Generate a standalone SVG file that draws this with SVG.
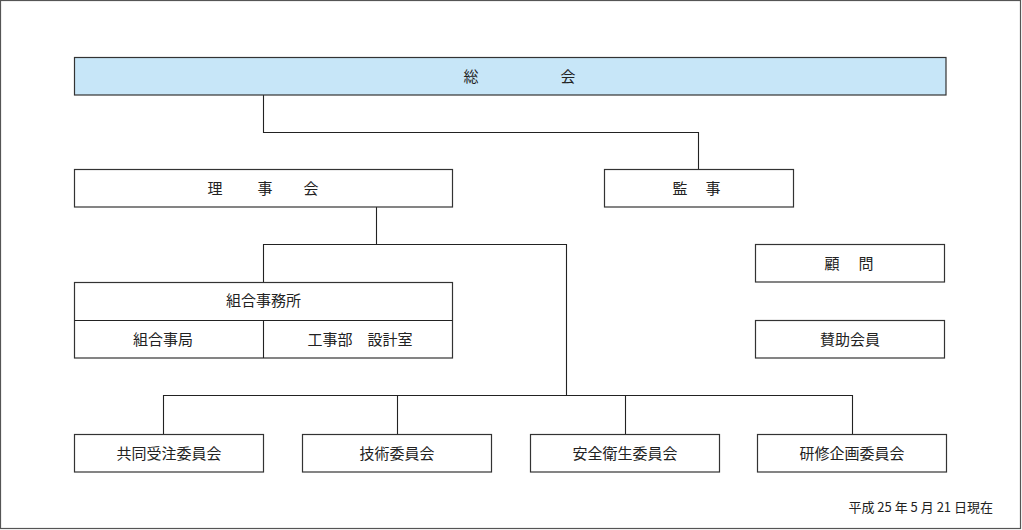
<svg xmlns="http://www.w3.org/2000/svg" width="1022" height="530" viewBox="0 0 1022 530">
<style>
.frame{fill:#fff;stroke:#555;stroke-width:1.2}
.box{fill:#fff;stroke:#333;stroke-width:1.2}
.top{fill:#c7e6f8;stroke:#333;stroke-width:1.2}
.ln{fill:none;stroke:#222;stroke-width:1.1}
text{font-family:"Noto Sans CJK JP","Noto Sans CJK SC",sans-serif;font-size:15px;fill:#222;text-anchor:middle}
.date{font-size:13px;text-anchor:end}
</style>
<rect class="frame" x="0.5" y="0.5" width="1020" height="528"/>
<g id="connectors">
<path class="ln" d="M263.5 95V132.5H698.5V169"/>
<path class="ln" d="M376.5 207V244.5"/>
<path class="ln" d="M263.5 282V244.5H566.5V395.5"/>
<path class="ln" d="M163.5 434V395.5H852.5V434"/>
<path class="ln" d="M397.5 395.5V434"/>
<path class="ln" d="M625.5 395.5V434"/>
</g>
<g id="soukai"><rect class="top" x="74.5" y="57.5" width="871.5" height="37.5"/><text x="471" y="81.5">総</text><text x="568" y="81.5">会</text></g>
<g id="rijikai"><rect class="box" x="74.5" y="169.5" width="378" height="37.5"/><text x="215" y="193.5">理</text><text x="265" y="193.5">事</text><text x="311" y="193.5">会</text></g>
<g id="kanji"><rect class="box" x="604.5" y="169.5" width="189" height="37.5"/><text x="680" y="193.5">監</text><text x="713" y="193.5">事</text></g>
<g id="komon"><rect class="box" x="755.5" y="244.5" width="189" height="37.5"/><text x="832" y="268.5">顧</text><text x="866" y="268.5">問</text></g>
<g id="sanjo"><rect class="box" x="755.5" y="320.5" width="189" height="37.5"/><text x="850" y="344.5">賛助会員</text></g>
<g id="jimusho"><rect class="box" x="74.5" y="282.5" width="378" height="75.5"/><path class="ln" d="M74.5 320.5H452.5M263.5 320.5V358"/><text x="263.5" y="306">組合事務所</text><text x="163" y="344.5">組合事局</text><text x="360" y="344.5">工事部　設計室</text></g>
<g id="kyodo"><rect class="box" x="74.5" y="434.5" width="189" height="37.5"/><text x="169" y="458.5">共同受注委員会</text></g>
<g id="gijutsu"><rect class="box" x="302.5" y="434.5" width="189" height="37.5"/><text x="397" y="458.5">技術委員会</text></g>
<g id="anzen"><rect class="box" x="530.5" y="434.5" width="189" height="37.5"/><text x="625" y="458.5">安全衛生委員会</text></g>
<g id="kenshu"><rect class="box" x="757.5" y="434.5" width="189" height="37.5"/><text x="852" y="458.5">研修企画委員会</text></g>
<text class="date" x="993" y="512">平成 25 年 5 月 21 日現在</text>
</svg>
